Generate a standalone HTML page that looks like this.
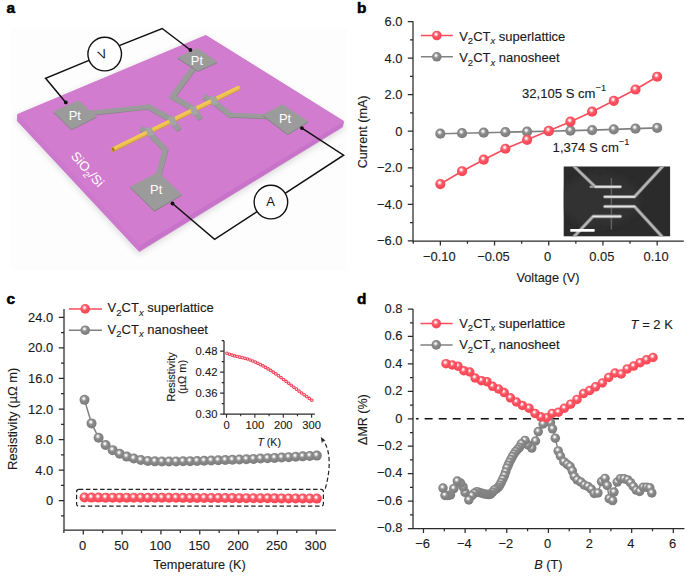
<!DOCTYPE html>
<html><head><meta charset="utf-8"><title>figure</title>
<style>
html,body{margin:0;padding:0;background:#fff;}
body{width:698px;height:582px;overflow:hidden;font-family:"Liberation Sans",sans-serif;}
svg{display:block;font-family:"Liberation Sans",sans-serif;}
.ch text{stroke:#1a1a1a;stroke-width:0.12px;stroke-linejoin:round;}
</style></head><body>
<svg width="698" height="582" viewBox="0 0 698 582">
<defs>
<radialGradient id="gr" cx="0.44" cy="0.40" r="0.62" fx="0.42" fy="0.36">
<stop offset="0" stop-color="#ffffff"/><stop offset="0.12" stop-color="#fff1f2"/><stop offset="0.27" stop-color="#fd9aa3"/><stop offset="0.43" stop-color="#fb5a68"/><stop offset="0.7" stop-color="#fb4a58"/><stop offset="1" stop-color="#f84656"/>
</radialGradient>
<radialGradient id="gg" cx="0.44" cy="0.40" r="0.62" fx="0.42" fy="0.36">
<stop offset="0" stop-color="#ffffff"/><stop offset="0.12" stop-color="#f2f2f2"/><stop offset="0.27" stop-color="#b8b8b8"/><stop offset="0.43" stop-color="#8c8c8c"/><stop offset="0.7" stop-color="#828282"/><stop offset="1" stop-color="#7c7c7c"/>
</radialGradient>
<linearGradient id="gold" x1="0" y1="0" x2="0" y2="1">
<stop offset="0" stop-color="#f3cf63"/><stop offset="0.45" stop-color="#ecbd45"/><stop offset="1" stop-color="#c9952a"/>
</linearGradient>
<filter id="blur" x="-20%" y="-20%" width="140%" height="140%"><feGaussianBlur stdDeviation="3.2"/></filter>
<filter id="blur1" x="-20%" y="-20%" width="140%" height="140%"><feGaussianBlur stdDeviation="0.5"/></filter>
</defs>
<rect x="0" y="0" width="698" height="582" fill="#ffffff"/>

<text transform="translate(6.4,12.6) scale(1.1,1)" font-size="14.0" font-weight="bold" fill="#000" stroke="#000" stroke-width="0.5" stroke-linejoin="round">a</text>
<text transform="translate(357,12.8) scale(1.1,1)" font-size="14.0" font-weight="bold" fill="#000" stroke="#000" stroke-width="0.5" stroke-linejoin="round">b</text>
<text transform="translate(6.4,303.6) scale(1.1,1)" font-size="14.0" font-weight="bold" fill="#000" stroke="#000" stroke-width="0.5" stroke-linejoin="round">c</text>
<text transform="translate(357,303.8) scale(1.1,1)" font-size="14.0" font-weight="bold" fill="#000" stroke="#000" stroke-width="0.5" stroke-linejoin="round">d</text>
<g id="panelA">
<rect x="10.7" y="27.5" width="336" height="242.5" fill="#fdfdfd"/>
<polygon points="17.4,121 139.3,253.5 344.5,128 344,123 205,36 17.4,115" fill="#8a8a8a" opacity="0.3" filter="url(#blur)" transform="translate(-0.5,1)"/>
<polygon points="17.6,114.5 17.4,120.9 139.3,251.6 342.5,127.1 343.8,121.5 205.9,35.5" fill="#c773ca" stroke="#c773ca" stroke-width="0.6" stroke-linejoin="round"/>
<polygon points="17.6,114.5 17.4,120.9 139.3,251.6 139.6,245.4" fill="#cc78cd"/>
<polygon points="17.8,114.4 205.9,35.5 343.8,121.4 139.6,245.4" fill="#d17ccf" stroke="#d17ccf" stroke-width="0.6" stroke-linejoin="round"/>
<polyline points="92,112.8 148.6,106.7" fill="none" stroke="#858585" stroke-width="4.4" stroke-linejoin="miter" stroke-linecap="round" transform="translate(0.3,0.7)"/>
<polyline points="148.6,106.7 171.2,119.4" fill="none" stroke="#858585" stroke-width="5.4" stroke-linejoin="miter" stroke-linecap="round" transform="translate(0.3,0.7)"/>
<polyline points="171.2,119.4 179,129.6" fill="none" stroke="#858585" stroke-width="5.4" stroke-linejoin="miter" stroke-linecap="butt" transform="translate(0.3,0.7)"/>
<polyline points="193.2,68.2 172.4,96.6 193.2,108.8 200.4,118.8" fill="none" stroke="#858585" stroke-width="5.4" stroke-linejoin="miter" stroke-linecap="butt" transform="translate(0.3,0.7)"/>
<polyline points="266,116.3 230.4,114.9" fill="none" stroke="#858585" stroke-width="4.4" stroke-linejoin="miter" stroke-linecap="round" transform="translate(0.3,0.7)"/>
<polyline points="230.4,114.9 214.6,102.6" fill="none" stroke="#858585" stroke-width="5.4" stroke-linejoin="miter" stroke-linecap="round" transform="translate(0.3,0.7)"/>
<polyline points="214.6,102.6 203.6,96.4" fill="none" stroke="#858585" stroke-width="5.4" stroke-linejoin="miter" stroke-linecap="butt" transform="translate(0.3,0.7)"/>
<polyline points="158.8,174 165.3,149.6 150.2,134 140.6,128.2" fill="none" stroke="#858585" stroke-width="5.4" stroke-linejoin="miter" stroke-linecap="butt" transform="translate(0.3,0.7)"/>
<polyline points="92,112.8 148.6,106.7" fill="none" stroke="#9b9b9b" stroke-width="4.4" stroke-linejoin="miter" stroke-linecap="round"/>
<polyline points="148.6,106.7 171.2,119.4" fill="none" stroke="#9b9b9b" stroke-width="5.4" stroke-linejoin="miter" stroke-linecap="round"/>
<polyline points="171.2,119.4 179,129.6" fill="none" stroke="#9b9b9b" stroke-width="5.4" stroke-linejoin="miter" stroke-linecap="butt"/>
<polyline points="193.2,68.2 172.4,96.6 193.2,108.8 200.4,118.8" fill="none" stroke="#9b9b9b" stroke-width="5.4" stroke-linejoin="miter" stroke-linecap="butt"/>
<polyline points="266,116.3 230.4,114.9" fill="none" stroke="#9b9b9b" stroke-width="4.4" stroke-linejoin="miter" stroke-linecap="round"/>
<polyline points="230.4,114.9 214.6,102.6" fill="none" stroke="#9b9b9b" stroke-width="5.4" stroke-linejoin="miter" stroke-linecap="round"/>
<polyline points="214.6,102.6 203.6,96.4" fill="none" stroke="#9b9b9b" stroke-width="5.4" stroke-linejoin="miter" stroke-linecap="butt"/>
<polyline points="158.8,174 165.3,149.6 150.2,134 140.6,128.2" fill="none" stroke="#9b9b9b" stroke-width="5.4" stroke-linejoin="miter" stroke-linecap="butt"/>
<line x1="113.4" y1="149.4" x2="238.2" y2="88.2" stroke="#cf9f35" stroke-width="4.5" stroke-linecap="round"/>
<line x1="113.4" y1="148.9" x2="238.2" y2="87.7" stroke="#ecc050" stroke-width="3.8" stroke-linecap="round"/>
<line x1="113.6" y1="148.0" x2="238.2" y2="86.9" stroke="#f3c85a" stroke-width="1.4" stroke-linecap="round"/>
<ellipse cx="113.2" cy="149.4" rx="1.3" ry="2.1" fill="#a87a1c" transform="rotate(-26 113.2 149.4)"/>
<polygon points="145.6,128.2 151,127 154.1,135.1 148.6,136.3" fill="#929292" transform="translate(0.4,0.5)"/>
<polygon points="145.6,128.2 151,127 154.1,135.1 148.6,136.3" fill="#a5a5a5" stroke="#a5a5a5" stroke-width="0.5" stroke-linejoin="round"/>
<polygon points="168.3,117.7 173.7,116.5 176.8,124.6 171.3,125.8" fill="#929292" transform="translate(0.4,0.5)"/>
<polygon points="168.3,117.7 173.7,116.5 176.8,124.6 171.3,125.8" fill="#a5a5a5" stroke="#a5a5a5" stroke-width="0.5" stroke-linejoin="round"/>
<polygon points="189.8,107.1 195.2,105.9 198.3,114 192.8,115.2" fill="#929292" transform="translate(0.4,0.5)"/>
<polygon points="189.8,107.1 195.2,105.9 198.3,114 192.8,115.2" fill="#a5a5a5" stroke="#a5a5a5" stroke-width="0.5" stroke-linejoin="round"/>
<polygon points="209.8,97.1 215.2,95.9 218.3,104 212.8,105.2" fill="#929292" transform="translate(0.4,0.5)"/>
<polygon points="209.8,97.1 215.2,95.9 218.3,104 212.8,105.2" fill="#a5a5a5" stroke="#a5a5a5" stroke-width="0.5" stroke-linejoin="round"/>
<polygon points="53.4,111.6 78.6,100.2 96.8,116.4 71.6,129.2" fill="#858585" transform="translate(0,1.1)"/>
<polygon points="53.4,111.6 78.6,100.2 96.8,116.4 71.6,129.2" fill="#9b9b9b"/>
<polygon points="177.3,57.6 197.7,48.1 217.7,61.9 197.9,70.9" fill="#858585" transform="translate(0,1.1)"/>
<polygon points="177.3,57.6 197.7,48.1 217.7,61.9 197.9,70.9" fill="#9b9b9b"/>
<polygon points="262.6,114.8 282.6,104.2 308.3,121.5 287.7,134.2" fill="#858585" transform="translate(0,1.1)"/>
<polygon points="262.6,114.8 282.6,104.2 308.3,121.5 287.7,134.2" fill="#9b9b9b"/>
<polygon points="130,186.7 158.3,171.9 181.9,194.5 154.5,210.6" fill="#858585" transform="translate(0,1.1)"/>
<polygon points="130,186.7 158.3,171.9 181.9,194.5 154.5,210.6" fill="#9b9b9b"/>
<text x="74.8" y="119.6" font-size="12.9" text-anchor="middle" fill="#ffffff" >Pt</text>
<text x="196.9" y="64.8" font-size="12.9" text-anchor="middle" fill="#ffffff" >Pt</text>
<text x="285" y="122.8" font-size="12.9" text-anchor="middle" fill="#ffffff" >Pt</text>
<text x="156.2" y="193.8" font-size="12.9" text-anchor="middle" fill="#ffffff" >Pt</text>
<text transform="translate(84.1,172.2) rotate(48.5)" font-size="13.1" text-anchor="middle" fill="#ffffff">SiO<tspan font-size="9" dy="3">2</tspan><tspan dy="-3">/Si</tspan></text>
<polyline points="65.8,102.4 45.6,78.2 104.7,53.9" stroke="#111" stroke-width="1.5" fill="none" stroke-linejoin="miter"/>
<polyline points="104.7,51.4 162.2,28.5 190.4,50" stroke="#111" stroke-width="1.5" fill="none" stroke-linejoin="miter"/>
<polyline points="172.5,203.5 214.6,239.4 343.6,155.2 301.9,128.1" stroke="#111" stroke-width="1.5" fill="none" stroke-linejoin="miter"/>
<circle cx="65.8" cy="102.4" r="1.9" fill="#111"/>
<circle cx="190.4" cy="50.0" r="1.9" fill="#111"/>
<circle cx="172.5" cy="203.5" r="1.9" fill="#111"/>
<circle cx="301.9" cy="128.1" r="1.9" fill="#111"/>
<circle cx="104.7" cy="54.1" r="16.8" fill="#fff" stroke="#111" stroke-width="1.4"/>
<circle cx="270.9" cy="202.1" r="16.8" fill="#fff" stroke="#111" stroke-width="1.4"/>
<text transform="translate(102.4,54.2) rotate(-24)" font-size="12.6" text-anchor="middle" fill="#111" dy="4.5">V</text>
<text x="270.5" y="206.2" font-size="13" text-anchor="middle" fill="#111" >A</text>
</g>
<g id="panelB" class="ch">
<path d="M413 21.3 V241.1 H683.8" fill="none" stroke="#2a2a2a" stroke-width="1.25" stroke-linejoin="miter"/>
<path d="M440.35 241.1v4.4M494.55 241.1v4.4M548.75 241.1v4.4M602.95 241.1v4.4M657.15 241.1v4.4M413.25 241.1v2.7M467.45 241.1v2.7M521.65 241.1v2.7M575.85 241.1v2.7M630.05 241.1v2.7M413 21.52h-5.2M413 58.08h-5.2M413 94.64h-5.2M413 131.2h-5.2M413 167.76h-5.2M413 204.32h-5.2M413 240.88h-5.2M413 39.8h-3M413 76.36h-3M413 112.92h-3M413 149.48h-3M413 186.04h-3M413 222.6h-3" fill="none" stroke="#2a2a2a" stroke-width="1.25"/>
<text x="402.4" y="26.02" font-size="12.9" text-anchor="end" fill="#1a1a1a" >6.0</text>
<text x="402.4" y="62.58" font-size="12.9" text-anchor="end" fill="#1a1a1a" >4.0</text>
<text x="402.4" y="99.14" font-size="12.9" text-anchor="end" fill="#1a1a1a" >2.0</text>
<text x="402.4" y="135.7" font-size="12.9" text-anchor="end" fill="#1a1a1a" >0</text>
<text x="402.4" y="172.26" font-size="12.9" text-anchor="end" fill="#1a1a1a" >−2.0</text>
<text x="402.4" y="208.82" font-size="12.9" text-anchor="end" fill="#1a1a1a" >−4.0</text>
<text x="402.4" y="245.38" font-size="12.9" text-anchor="end" fill="#1a1a1a" >−6.0</text>
<text x="439.25" y="261" font-size="12.9" text-anchor="middle" fill="#1a1a1a" >−0.10</text>
<text x="493.45" y="261" font-size="12.9" text-anchor="middle" fill="#1a1a1a" >−0.05</text>
<text x="547.65" y="261" font-size="12.9" text-anchor="middle" fill="#1a1a1a" >0</text>
<text x="601.85" y="261" font-size="12.9" text-anchor="middle" fill="#1a1a1a" >0.05</text>
<text x="656.05" y="261" font-size="12.9" text-anchor="middle" fill="#1a1a1a" >0.10</text>
<text x="548" y="281.5" font-size="12.75" text-anchor="middle" fill="#1a1a1a" >Voltage (V)</text>
<text transform="translate(367.4,131.9) rotate(-90)" font-size="12.6" text-anchor="middle" fill="#1a1a1a">Current (mA)</text>
<g id="sem">
<rect x="563.7" y="166.5" width="106.4" height="69.8" fill="#2b2b2b"/>
<clipPath id="semclip"><rect x="563.7" y="166.5" width="106.4" height="69.8"/></clipPath>
<g clip-path="url(#semclip)" fill="none" stroke-linecap="round" stroke-linejoin="round">
<ellipse cx="600" cy="200" rx="40" ry="26" fill="#333333" filter="url(#blur)"/>
<rect x="610.7" y="178" width="1.4" height="51.5" fill="#636363" filter="url(#blur1)"/>
<g filter="url(#blur1)">
<line x1="590.8" y1="186.8" x2="596" y2="186.8" stroke="#9a9a9a" stroke-width="2.6"/>
<polyline points="573.2,165.5 595.3,186.8 620.4,186.8" stroke="#777777" stroke-width="3.6"/>
<polyline points="573.2,165.5 595.3,186.8 620.4,186.8" stroke="#b4b4b4" stroke-width="2.2"/>
<polyline points="663.4,165.5 634.5,196.8 604.7,196.8" stroke="#777777" stroke-width="3.6"/>
<polyline points="663.4,165.5 634.5,196.8 604.7,196.8" stroke="#b4b4b4" stroke-width="2.2"/>
<polyline points="604.7,206.5 634.5,206.5 662.6,237.3" stroke="#777777" stroke-width="3.6"/>
<polyline points="604.7,206.5 634.5,206.5 662.6,237.3" stroke="#b4b4b4" stroke-width="2.2"/>
<polyline points="620.4,216.4 593,216.4 573.4,237.3" stroke="#777777" stroke-width="3.6"/>
<polyline points="620.4,216.4 593,216.4 573.4,237.3" stroke="#b4b4b4" stroke-width="2.2"/>
<line x1="595.3" y1="186.8" x2="620.4" y2="186.8" stroke="#e4e4e4" stroke-width="1.5"/>
<line x1="634.5" y1="196.8" x2="604.7" y2="196.8" stroke="#e4e4e4" stroke-width="1.5"/>
<line x1="604.7" y1="206.5" x2="634.5" y2="206.5" stroke="#e4e4e4" stroke-width="1.5"/>
<line x1="620.4" y1="216.4" x2="593" y2="216.4" stroke="#e4e4e4" stroke-width="1.5"/>
</g>
<line x1="570.3" y1="230.4" x2="594.6" y2="230.4" stroke="#ffffff" stroke-width="2.6" stroke-linecap="butt"/>
</g></g>
<polyline points="440.35,133.7 462.03,133.21 483.71,132.7 505.39,132.21 527.07,131.69 548.75,131.2 570.43,130.65 592.11,130.1 613.79,129.37 635.47,128.64 657.15,127.91" fill="none" stroke="#808080" stroke-width="1.65"/>
<circle cx="440.35" cy="133.7" r="5.1" fill="url(#gg)"/>
<circle cx="462.03" cy="133.21" r="5.1" fill="url(#gg)"/>
<circle cx="483.71" cy="132.7" r="5.1" fill="url(#gg)"/>
<circle cx="505.39" cy="132.21" r="5.1" fill="url(#gg)"/>
<circle cx="527.07" cy="131.69" r="5.1" fill="url(#gg)"/>
<circle cx="548.75" cy="131.2" r="5.1" fill="url(#gg)"/>
<circle cx="570.43" cy="130.65" r="5.1" fill="url(#gg)"/>
<circle cx="592.11" cy="130.1" r="5.1" fill="url(#gg)"/>
<circle cx="613.79" cy="129.37" r="5.1" fill="url(#gg)"/>
<circle cx="635.47" cy="128.64" r="5.1" fill="url(#gg)"/>
<circle cx="657.15" cy="127.91" r="5.1" fill="url(#gg)"/>
<polyline points="440.35,184.03 462.03,171.23 483.71,159.72 505.39,148.75 527.07,139.79 548.75,130.83 570.43,121.69 592.11,111.64 613.79,100.86 635.47,89.52 657.15,76.73" fill="none" stroke="#f94d5c" stroke-width="1.65"/>
<circle cx="440.35" cy="184.03" r="5.1" fill="url(#gr)"/>
<circle cx="462.03" cy="171.23" r="5.1" fill="url(#gr)"/>
<circle cx="483.71" cy="159.72" r="5.1" fill="url(#gr)"/>
<circle cx="505.39" cy="148.75" r="5.1" fill="url(#gr)"/>
<circle cx="527.07" cy="139.79" r="5.1" fill="url(#gr)"/>
<circle cx="548.75" cy="130.83" r="5.1" fill="url(#gr)"/>
<circle cx="570.43" cy="121.69" r="5.1" fill="url(#gr)"/>
<circle cx="592.11" cy="111.64" r="5.1" fill="url(#gr)"/>
<circle cx="613.79" cy="100.86" r="5.1" fill="url(#gr)"/>
<circle cx="635.47" cy="89.52" r="5.1" fill="url(#gr)"/>
<circle cx="657.15" cy="76.73" r="5.1" fill="url(#gr)"/>
<line x1="420.9" y1="35.5" x2="452.9" y2="35.5" stroke="#f94d5c" stroke-width="1.5"/>
<circle cx="436.8" cy="35.5" r="4.8" fill="url(#gr)"/>
<text x="459.2" y="40.8" font-size="13" fill="#1a1a1a">V<tspan font-size="9.49" dy="3.5">2</tspan><tspan dy="-3.5">CT</tspan><tspan font-size="9.49" dy="3.5" font-style="italic">x</tspan><tspan dy="-3.5"> superlattice</tspan></text>
<line x1="420.9" y1="56.8" x2="452.9" y2="56.8" stroke="#808080" stroke-width="1.5"/>
<circle cx="436.8" cy="56.8" r="4.8" fill="url(#gg)"/>
<text x="459.2" y="62.1" font-size="13" fill="#1a1a1a">V<tspan font-size="9.49" dy="3.5">2</tspan><tspan dy="-3.5">CT</tspan><tspan font-size="9.49" dy="3.5" font-style="italic">x</tspan><tspan dy="-3.5"> nanosheet</tspan></text>
<text x="522" y="97.6" font-size="13.1" fill="#1a1a1a">32,105 S cm<tspan font-size="9.2" dy="-6.2">−1</tspan></text>
<text x="552.6" y="151.6" font-size="13.1" fill="#1a1a1a">1,374 S cm<tspan font-size="9.2" dy="-6.2">−1</tspan></text>
</g>
<g id="panelC" class="ch">
<path d="M64 309 V530.2 H336" fill="none" stroke="#2a2a2a" stroke-width="1.25" stroke-linejoin="miter"/>
<path d="M83.3 530.2v4.4M122.12 530.2v4.4M160.94 530.2v4.4M199.76 530.2v4.4M238.58 530.2v4.4M277.4 530.2v4.4M316.22 530.2v4.4M63.89 530.2v2.7M102.71 530.2v2.7M141.53 530.2v2.7M180.35 530.2v2.7M219.17 530.2v2.7M257.99 530.2v2.7M296.81 530.2v2.7M64 317.34h-5.2M64 347.9h-5.2M64 378.46h-5.2M64 409.02h-5.2M64 439.58h-5.2M64 470.14h-5.2M64 500.7h-5.2M64 332.62h-3M64 363.18h-3M64 393.74h-3M64 424.3h-3M64 454.86h-3M64 485.42h-3M64 515.98h-3" fill="none" stroke="#2a2a2a" stroke-width="1.25"/>
<text x="53.2" y="321.84" font-size="12.9" text-anchor="end" fill="#1a1a1a" >24.0</text>
<text x="53.2" y="352.4" font-size="12.9" text-anchor="end" fill="#1a1a1a" >20.0</text>
<text x="53.2" y="382.96" font-size="12.9" text-anchor="end" fill="#1a1a1a" >16.0</text>
<text x="53.2" y="413.52" font-size="12.9" text-anchor="end" fill="#1a1a1a" >12.0</text>
<text x="53.2" y="444.08" font-size="12.9" text-anchor="end" fill="#1a1a1a" >8.0</text>
<text x="53.2" y="474.64" font-size="12.9" text-anchor="end" fill="#1a1a1a" >4.0</text>
<text x="53.2" y="505.2" font-size="12.9" text-anchor="end" fill="#1a1a1a" >0</text>
<text x="82.7" y="550.2" font-size="12.9" text-anchor="middle" fill="#1a1a1a" >0</text>
<text x="121.52" y="550.2" font-size="12.9" text-anchor="middle" fill="#1a1a1a" >50</text>
<text x="160.34" y="550.2" font-size="12.9" text-anchor="middle" fill="#1a1a1a" >100</text>
<text x="199.16" y="550.2" font-size="12.9" text-anchor="middle" fill="#1a1a1a" >150</text>
<text x="237.98" y="550.2" font-size="12.9" text-anchor="middle" fill="#1a1a1a" >200</text>
<text x="276.8" y="550.2" font-size="12.9" text-anchor="middle" fill="#1a1a1a" >250</text>
<text x="315.62" y="550.2" font-size="12.9" text-anchor="middle" fill="#1a1a1a" >300</text>
<text x="199.6" y="568.6" font-size="12.8" text-anchor="middle" fill="#1a1a1a" >Temperature (K)</text>
<text transform="translate(17,418.8) rotate(-90)" font-size="13" text-anchor="middle" fill="#1a1a1a">Resistivity (µΩ m)</text>
<polyline points="84.5,399.85 91.54,423.41 98.58,437.67 105.62,445.03 112.66,450.16 119.7,453.83 126.74,456.62 133.78,458.58 140.82,460.05 147.86,460.94 154.9,461.37 161.94,461.58 168.98,461.58 176.02,461.44 183.06,461.3 190.1,461.16 197.14,461.02 204.18,460.82 211.22,460.57 218.26,460.32 225.3,460.07 232.34,459.82 239.38,459.56 246.42,459.23 253.46,458.89 260.5,458.56 267.54,458.23 274.58,457.9 281.62,457.53 288.66,457.14 295.7,456.75 302.74,456.37 309.78,455.98 316.82,455.62" fill="none" stroke="#808080" stroke-width="1.5"/>
<circle cx="84.5" cy="399.85" r="5" fill="url(#gg)"/>
<circle cx="91.54" cy="423.41" r="5" fill="url(#gg)"/>
<circle cx="98.58" cy="437.67" r="5" fill="url(#gg)"/>
<circle cx="105.62" cy="445.03" r="5" fill="url(#gg)"/>
<circle cx="112.66" cy="450.16" r="5" fill="url(#gg)"/>
<circle cx="119.7" cy="453.83" r="5" fill="url(#gg)"/>
<circle cx="126.74" cy="456.62" r="5" fill="url(#gg)"/>
<circle cx="133.78" cy="458.58" r="5" fill="url(#gg)"/>
<circle cx="140.82" cy="460.05" r="5" fill="url(#gg)"/>
<circle cx="147.86" cy="460.94" r="5" fill="url(#gg)"/>
<circle cx="154.9" cy="461.37" r="5" fill="url(#gg)"/>
<circle cx="161.94" cy="461.58" r="5" fill="url(#gg)"/>
<circle cx="168.98" cy="461.58" r="5" fill="url(#gg)"/>
<circle cx="176.02" cy="461.44" r="5" fill="url(#gg)"/>
<circle cx="183.06" cy="461.3" r="5" fill="url(#gg)"/>
<circle cx="190.1" cy="461.16" r="5" fill="url(#gg)"/>
<circle cx="197.14" cy="461.02" r="5" fill="url(#gg)"/>
<circle cx="204.18" cy="460.82" r="5" fill="url(#gg)"/>
<circle cx="211.22" cy="460.57" r="5" fill="url(#gg)"/>
<circle cx="218.26" cy="460.32" r="5" fill="url(#gg)"/>
<circle cx="225.3" cy="460.07" r="5" fill="url(#gg)"/>
<circle cx="232.34" cy="459.82" r="5" fill="url(#gg)"/>
<circle cx="239.38" cy="459.56" r="5" fill="url(#gg)"/>
<circle cx="246.42" cy="459.23" r="5" fill="url(#gg)"/>
<circle cx="253.46" cy="458.89" r="5" fill="url(#gg)"/>
<circle cx="260.5" cy="458.56" r="5" fill="url(#gg)"/>
<circle cx="267.54" cy="458.23" r="5" fill="url(#gg)"/>
<circle cx="274.58" cy="457.9" r="5" fill="url(#gg)"/>
<circle cx="281.62" cy="457.53" r="5" fill="url(#gg)"/>
<circle cx="288.66" cy="457.14" r="5" fill="url(#gg)"/>
<circle cx="295.7" cy="456.75" r="5" fill="url(#gg)"/>
<circle cx="302.74" cy="456.37" r="5" fill="url(#gg)"/>
<circle cx="309.78" cy="455.98" r="5" fill="url(#gg)"/>
<circle cx="316.82" cy="455.62" r="5" fill="url(#gg)"/>
<line x1="84.5" y1="497.08" x2="316.82" y2="498.11" stroke="#f94d5c" stroke-width="1.5"/>
<circle cx="84.5" cy="497.58" r="5" fill="url(#gr)"/>
<circle cx="91.54" cy="497.6" r="5" fill="url(#gr)"/>
<circle cx="98.58" cy="497.62" r="5" fill="url(#gr)"/>
<circle cx="105.62" cy="497.64" r="5" fill="url(#gr)"/>
<circle cx="112.66" cy="497.65" r="5" fill="url(#gr)"/>
<circle cx="119.7" cy="497.66" r="5" fill="url(#gr)"/>
<circle cx="126.74" cy="497.68" r="5" fill="url(#gr)"/>
<circle cx="133.78" cy="497.69" r="5" fill="url(#gr)"/>
<circle cx="140.82" cy="497.71" r="5" fill="url(#gr)"/>
<circle cx="147.86" cy="497.73" r="5" fill="url(#gr)"/>
<circle cx="154.9" cy="497.75" r="5" fill="url(#gr)"/>
<circle cx="161.94" cy="497.77" r="5" fill="url(#gr)"/>
<circle cx="168.98" cy="497.8" r="5" fill="url(#gr)"/>
<circle cx="176.02" cy="497.83" r="5" fill="url(#gr)"/>
<circle cx="183.06" cy="497.86" r="5" fill="url(#gr)"/>
<circle cx="190.1" cy="497.89" r="5" fill="url(#gr)"/>
<circle cx="197.14" cy="497.92" r="5" fill="url(#gr)"/>
<circle cx="204.18" cy="497.95" r="5" fill="url(#gr)"/>
<circle cx="211.22" cy="497.99" r="5" fill="url(#gr)"/>
<circle cx="218.26" cy="498.03" r="5" fill="url(#gr)"/>
<circle cx="225.3" cy="498.07" r="5" fill="url(#gr)"/>
<circle cx="232.34" cy="498.11" r="5" fill="url(#gr)"/>
<circle cx="239.38" cy="498.15" r="5" fill="url(#gr)"/>
<circle cx="246.42" cy="498.19" r="5" fill="url(#gr)"/>
<circle cx="253.46" cy="498.24" r="5" fill="url(#gr)"/>
<circle cx="260.5" cy="498.28" r="5" fill="url(#gr)"/>
<circle cx="267.54" cy="498.32" r="5" fill="url(#gr)"/>
<circle cx="274.58" cy="498.36" r="5" fill="url(#gr)"/>
<circle cx="281.62" cy="498.41" r="5" fill="url(#gr)"/>
<circle cx="288.66" cy="498.45" r="5" fill="url(#gr)"/>
<circle cx="295.7" cy="498.49" r="5" fill="url(#gr)"/>
<circle cx="302.74" cy="498.53" r="5" fill="url(#gr)"/>
<circle cx="309.78" cy="498.57" r="5" fill="url(#gr)"/>
<circle cx="316.82" cy="498.61" r="5" fill="url(#gr)"/>
<rect x="76.6" y="489.4" width="246.8" height="16.8" rx="2.2" fill="none" stroke="#222" stroke-width="1.2" stroke-dasharray="4.5 2.6"/>
<path d="M325.3 488.6 C330.5 470 331 452 323.6 440.6" fill="none" stroke="#222" stroke-width="1.2" stroke-dasharray="4.3 2.6"/>
<path d="M320.8 437.0 L325.6 440.6 L322.9 440.9 L321.9 443.4 Z" fill="#222"/>
<path d="M224 340.8 V414.1 H314.8" fill="none" stroke="#2a2a2a" stroke-width="1.25"/>
<path d="M226.5 414.1v3.6M254.88 414.1v3.6M283.26 414.1v3.6M311.64 414.1v3.6M240.69 414.1v2.2M269.07 414.1v2.2M297.45 414.1v2.2M224 351.1h-3.8M224 372.1h-3.8M224 393.1h-3.8M224 414.1h-3.8M224 340.6h-2.3M224 361.6h-2.3M224 382.6h-2.3M224 403.6h-2.3" fill="none" stroke="#2a2a2a" stroke-width="1.1"/>
<text x="217.4" y="355.1" font-size="11.2" text-anchor="end" fill="#1a1a1a" >0.48</text>
<text x="217.4" y="376.1" font-size="11.2" text-anchor="end" fill="#1a1a1a" >0.42</text>
<text x="217.4" y="397.1" font-size="11.2" text-anchor="end" fill="#1a1a1a" >0.36</text>
<text x="217.4" y="418.1" font-size="11.2" text-anchor="end" fill="#1a1a1a" >0.30</text>
<text x="226.5" y="429.4" font-size="11.2" text-anchor="middle" fill="#1a1a1a" >0</text>
<text x="254.88" y="429.4" font-size="11.2" text-anchor="middle" fill="#1a1a1a" >100</text>
<text x="283.26" y="429.4" font-size="11.2" text-anchor="middle" fill="#1a1a1a" >200</text>
<text x="311.64" y="429.4" font-size="11.2" text-anchor="middle" fill="#1a1a1a" >300</text>
<text x="269.2" y="446" font-size="10.6" text-anchor="middle" fill="#1a1a1a"><tspan font-style="italic">T</tspan> (K)</text>
<text transform="translate(174.6,377) rotate(-90)" font-size="11" text-anchor="middle" fill="#1a1a1a">Resistivity</text>
<text transform="translate(185.6,377) rotate(-90)" font-size="11" text-anchor="middle" fill="#1a1a1a">(µΩ m)</text>
<circle cx="226.94" cy="353.23" r="1.3" fill="#ffe9ec" stroke="#f03e56" stroke-width="1.05"/>
<circle cx="229.51" cy="354.27" r="1.3" fill="#ffe9ec" stroke="#f03e56" stroke-width="1.05"/>
<circle cx="232.09" cy="355.17" r="1.3" fill="#ffe9ec" stroke="#f03e56" stroke-width="1.05"/>
<circle cx="234.66" cy="355.94" r="1.3" fill="#ffe9ec" stroke="#f03e56" stroke-width="1.05"/>
<circle cx="237.23" cy="356.54" r="1.3" fill="#ffe9ec" stroke="#f03e56" stroke-width="1.05"/>
<circle cx="239.81" cy="357.13" r="1.3" fill="#ffe9ec" stroke="#f03e56" stroke-width="1.05"/>
<circle cx="242.38" cy="357.72" r="1.3" fill="#ffe9ec" stroke="#f03e56" stroke-width="1.05"/>
<circle cx="244.95" cy="358.31" r="1.3" fill="#ffe9ec" stroke="#f03e56" stroke-width="1.05"/>
<circle cx="247.53" cy="359.03" r="1.3" fill="#ffe9ec" stroke="#f03e56" stroke-width="1.05"/>
<circle cx="250.1" cy="360.02" r="1.3" fill="#ffe9ec" stroke="#f03e56" stroke-width="1.05"/>
<circle cx="252.67" cy="361" r="1.3" fill="#ffe9ec" stroke="#f03e56" stroke-width="1.05"/>
<circle cx="255.25" cy="362.07" r="1.3" fill="#ffe9ec" stroke="#f03e56" stroke-width="1.05"/>
<circle cx="257.82" cy="363.34" r="1.3" fill="#ffe9ec" stroke="#f03e56" stroke-width="1.05"/>
<circle cx="260.39" cy="364.62" r="1.3" fill="#ffe9ec" stroke="#f03e56" stroke-width="1.05"/>
<circle cx="262.97" cy="365.93" r="1.3" fill="#ffe9ec" stroke="#f03e56" stroke-width="1.05"/>
<circle cx="265.54" cy="367.42" r="1.3" fill="#ffe9ec" stroke="#f03e56" stroke-width="1.05"/>
<circle cx="268.11" cy="368.9" r="1.3" fill="#ffe9ec" stroke="#f03e56" stroke-width="1.05"/>
<circle cx="270.69" cy="370.42" r="1.3" fill="#ffe9ec" stroke="#f03e56" stroke-width="1.05"/>
<circle cx="273.26" cy="372.15" r="1.3" fill="#ffe9ec" stroke="#f03e56" stroke-width="1.05"/>
<circle cx="275.83" cy="373.88" r="1.3" fill="#ffe9ec" stroke="#f03e56" stroke-width="1.05"/>
<circle cx="278.41" cy="375.62" r="1.3" fill="#ffe9ec" stroke="#f03e56" stroke-width="1.05"/>
<circle cx="280.98" cy="377.56" r="1.3" fill="#ffe9ec" stroke="#f03e56" stroke-width="1.05"/>
<circle cx="283.55" cy="379.49" r="1.3" fill="#ffe9ec" stroke="#f03e56" stroke-width="1.05"/>
<circle cx="286.13" cy="381.42" r="1.3" fill="#ffe9ec" stroke="#f03e56" stroke-width="1.05"/>
<circle cx="288.7" cy="383.35" r="1.3" fill="#ffe9ec" stroke="#f03e56" stroke-width="1.05"/>
<circle cx="291.27" cy="385.28" r="1.3" fill="#ffe9ec" stroke="#f03e56" stroke-width="1.05"/>
<circle cx="293.85" cy="387.21" r="1.3" fill="#ffe9ec" stroke="#f03e56" stroke-width="1.05"/>
<circle cx="296.42" cy="389.14" r="1.3" fill="#ffe9ec" stroke="#f03e56" stroke-width="1.05"/>
<circle cx="298.99" cy="391.07" r="1.3" fill="#ffe9ec" stroke="#f03e56" stroke-width="1.05"/>
<circle cx="301.57" cy="392.99" r="1.3" fill="#ffe9ec" stroke="#f03e56" stroke-width="1.05"/>
<circle cx="304.14" cy="394.81" r="1.3" fill="#ffe9ec" stroke="#f03e56" stroke-width="1.05"/>
<circle cx="306.71" cy="396.62" r="1.3" fill="#ffe9ec" stroke="#f03e56" stroke-width="1.05"/>
<circle cx="309.29" cy="398.42" r="1.3" fill="#ffe9ec" stroke="#f03e56" stroke-width="1.05"/>
<circle cx="311.86" cy="400.22" r="1.3" fill="#ffe9ec" stroke="#f03e56" stroke-width="1.05"/>
<line x1="68.9" y1="308.9" x2="102" y2="308.9" stroke="#f94d5c" stroke-width="1.5"/>
<circle cx="85.2" cy="308.9" r="4.8" fill="url(#gr)"/>
<text x="107.6" y="312.2" font-size="13" fill="#1a1a1a">V<tspan font-size="9.49" dy="3.5">2</tspan><tspan dy="-3.5">CT</tspan><tspan font-size="9.49" dy="3.5" font-style="italic">x</tspan><tspan dy="-3.5"> superlattice</tspan></text>
<line x1="68.9" y1="330.2" x2="102" y2="330.2" stroke="#808080" stroke-width="1.5"/>
<circle cx="85.2" cy="330.2" r="4.8" fill="url(#gg)"/>
<text x="107.6" y="333.5" font-size="13" fill="#1a1a1a">V<tspan font-size="9.49" dy="3.5">2</tspan><tspan dy="-3.5">CT</tspan><tspan font-size="9.49" dy="3.5" font-style="italic">x</tspan><tspan dy="-3.5"> nanosheet</tspan></text>
</g>
<g id="panelD" class="ch">
<path d="M413 309.1 V528.5 H684.4" fill="none" stroke="#2a2a2a" stroke-width="1.25" stroke-linejoin="miter"/>
<path d="M423.48 528.5v4.4M465.12 528.5v4.4M506.76 528.5v4.4M548.4 528.5v4.4M590.04 528.5v4.4M631.68 528.5v4.4M673.32 528.5v4.4M444.3 528.5v2.7M485.94 528.5v2.7M527.58 528.5v2.7M569.22 528.5v2.7M610.86 528.5v2.7M652.5 528.5v2.7M413 309.04h-5.2M413 336.48h-5.2M413 363.92h-5.2M413 391.36h-5.2M413 418.8h-5.2M413 446.24h-5.2M413 473.68h-5.2M413 501.12h-5.2M413 528.56h-5.2M413 322.76h-3M413 350.2h-3M413 377.64h-3M413 405.08h-3M413 432.52h-3M413 459.96h-3M413 487.4h-3M413 514.84h-3" fill="none" stroke="#2a2a2a" stroke-width="1.25"/>
<text x="402.4" y="312.74" font-size="12.9" text-anchor="end" fill="#1a1a1a" >0.8</text>
<text x="402.4" y="340.18" font-size="12.9" text-anchor="end" fill="#1a1a1a" >0.6</text>
<text x="402.4" y="367.62" font-size="12.9" text-anchor="end" fill="#1a1a1a" >0.4</text>
<text x="402.4" y="395.06" font-size="12.9" text-anchor="end" fill="#1a1a1a" >0.2</text>
<text x="402.4" y="422.5" font-size="12.9" text-anchor="end" fill="#1a1a1a" >0</text>
<text x="402.4" y="449.94" font-size="12.9" text-anchor="end" fill="#1a1a1a" >−0.2</text>
<text x="402.4" y="477.38" font-size="12.9" text-anchor="end" fill="#1a1a1a" >−0.4</text>
<text x="402.4" y="504.82" font-size="12.9" text-anchor="end" fill="#1a1a1a" >−0.6</text>
<text x="402.4" y="532.26" font-size="12.9" text-anchor="end" fill="#1a1a1a" >−0.8</text>
<text x="422.68" y="547.8" font-size="12.9" text-anchor="middle" fill="#1a1a1a" >−6</text>
<text x="464.32" y="547.8" font-size="12.9" text-anchor="middle" fill="#1a1a1a" >−4</text>
<text x="505.96" y="547.8" font-size="12.9" text-anchor="middle" fill="#1a1a1a" >−2</text>
<text x="547.6" y="547.8" font-size="12.9" text-anchor="middle" fill="#1a1a1a" >0</text>
<text x="589.24" y="547.8" font-size="12.9" text-anchor="middle" fill="#1a1a1a" >2</text>
<text x="630.88" y="547.8" font-size="12.9" text-anchor="middle" fill="#1a1a1a" >4</text>
<text x="672.52" y="547.8" font-size="12.9" text-anchor="middle" fill="#1a1a1a" >6</text>
<text x="548.4" y="568.6" font-size="12.7" text-anchor="middle" fill="#1a1a1a"><tspan font-style="italic">B</tspan> (T)</text>
<text transform="translate(366.8,419.6) rotate(-90)" font-size="12.5" text-anchor="middle" fill="#1a1a1a">ΔMR (%)</text>
<text x="630.6" y="329.2" font-size="13.0" fill="#1a1a1a"><tspan font-style="italic">T</tspan> = 2 K</text>
<line x1="416" y1="418.8" x2="684" y2="418.8" stroke="#111" stroke-width="1.5" stroke-dasharray="8 6.04" stroke-dashoffset="5.4"/>
<polyline points="443,488.1 445,495.4 447.8,495.6 450.5,494.9 453.8,488.6 457.3,481.1 460.6,483.1 463.1,486.9 465.1,492.4 468.8,499.9 471.8,495.7 474.4,493.2 476.9,491.7 479.5,492.6 481.9,493.2 484.2,494 486.4,494.2 488.6,494.6 490.6,494.2 492.6,492.2 494.4,489.9 496.3,488.8 498.2,487.4 499.8,485.2 501.2,482.4 502.8,479.2 504.4,475.6 505.7,472 506.9,468.1 508.2,465.2 509.4,462.3 510.9,459.5 512.4,456.6 514,454 515.7,451.5 517.6,449.3 519.5,447.3 521.3,443.8 525,440.4 527.5,444.7 531.8,448.1 535.5,441 538.3,431.6 543.1,424 546.8,419.7 550.5,422.6 552.5,428.8 555.3,438.2 558.2,450.9 560.4,456 563.8,461.7 567.2,464.3 570.1,466.5 572.3,470.8 574.3,476.5 577.2,479.9 580.9,482.1 584.3,485 587.9,486.4 591.3,489.2 594.2,493.5 597.9,492.9 601.6,481.6 605,478.4 607.2,485.5 609.2,498.6 612.6,500.6 614,492.1 617.2,482.1 620.6,478.7 624,478.7 627.7,479.9 630.5,482.7 633.3,486.4 636.2,490.1 639.6,491.5 643.3,487.2 646.7,487.2 649.8,487.8 651.8,492.9" fill="none" stroke="#808080" stroke-width="1.4"/>
<circle cx="546.8" cy="419.7" r="4.75" fill="url(#gg)"/>
<circle cx="550.5" cy="422.6" r="4.75" fill="url(#gg)"/>
<circle cx="543.1" cy="424" r="4.75" fill="url(#gg)"/>
<circle cx="552.5" cy="428.8" r="4.75" fill="url(#gg)"/>
<circle cx="538.3" cy="431.6" r="4.75" fill="url(#gg)"/>
<circle cx="555.3" cy="438.2" r="4.75" fill="url(#gg)"/>
<circle cx="535.5" cy="441" r="4.75" fill="url(#gg)"/>
<circle cx="558.2" cy="450.9" r="4.75" fill="url(#gg)"/>
<circle cx="531.8" cy="448.1" r="4.75" fill="url(#gg)"/>
<circle cx="560.4" cy="456" r="4.75" fill="url(#gg)"/>
<circle cx="527.5" cy="444.7" r="4.75" fill="url(#gg)"/>
<circle cx="563.8" cy="461.7" r="4.75" fill="url(#gg)"/>
<circle cx="525" cy="440.4" r="4.75" fill="url(#gg)"/>
<circle cx="567.2" cy="464.3" r="4.75" fill="url(#gg)"/>
<circle cx="521.3" cy="443.8" r="4.75" fill="url(#gg)"/>
<circle cx="570.1" cy="466.5" r="4.75" fill="url(#gg)"/>
<circle cx="519.5" cy="447.3" r="4.75" fill="url(#gg)"/>
<circle cx="572.3" cy="470.8" r="4.75" fill="url(#gg)"/>
<circle cx="517.6" cy="449.3" r="4.75" fill="url(#gg)"/>
<circle cx="574.3" cy="476.5" r="4.75" fill="url(#gg)"/>
<circle cx="515.7" cy="451.5" r="4.75" fill="url(#gg)"/>
<circle cx="577.2" cy="479.9" r="4.75" fill="url(#gg)"/>
<circle cx="514" cy="454" r="4.75" fill="url(#gg)"/>
<circle cx="580.9" cy="482.1" r="4.75" fill="url(#gg)"/>
<circle cx="512.4" cy="456.6" r="4.75" fill="url(#gg)"/>
<circle cx="584.3" cy="485" r="4.75" fill="url(#gg)"/>
<circle cx="510.9" cy="459.5" r="4.75" fill="url(#gg)"/>
<circle cx="587.9" cy="486.4" r="4.75" fill="url(#gg)"/>
<circle cx="509.4" cy="462.3" r="4.75" fill="url(#gg)"/>
<circle cx="591.3" cy="489.2" r="4.75" fill="url(#gg)"/>
<circle cx="508.2" cy="465.2" r="4.75" fill="url(#gg)"/>
<circle cx="594.2" cy="493.5" r="4.75" fill="url(#gg)"/>
<circle cx="506.9" cy="468.1" r="4.75" fill="url(#gg)"/>
<circle cx="597.9" cy="492.9" r="4.75" fill="url(#gg)"/>
<circle cx="505.7" cy="472" r="4.75" fill="url(#gg)"/>
<circle cx="601.6" cy="481.6" r="4.75" fill="url(#gg)"/>
<circle cx="504.4" cy="475.6" r="4.75" fill="url(#gg)"/>
<circle cx="605" cy="478.4" r="4.75" fill="url(#gg)"/>
<circle cx="502.8" cy="479.2" r="4.75" fill="url(#gg)"/>
<circle cx="607.2" cy="485.5" r="4.75" fill="url(#gg)"/>
<circle cx="501.2" cy="482.4" r="4.75" fill="url(#gg)"/>
<circle cx="609.2" cy="498.6" r="4.75" fill="url(#gg)"/>
<circle cx="499.8" cy="485.2" r="4.75" fill="url(#gg)"/>
<circle cx="612.6" cy="500.6" r="4.75" fill="url(#gg)"/>
<circle cx="498.2" cy="487.4" r="4.75" fill="url(#gg)"/>
<circle cx="614" cy="492.1" r="4.75" fill="url(#gg)"/>
<circle cx="496.3" cy="488.8" r="4.75" fill="url(#gg)"/>
<circle cx="617.2" cy="482.1" r="4.75" fill="url(#gg)"/>
<circle cx="494.4" cy="489.9" r="4.75" fill="url(#gg)"/>
<circle cx="620.6" cy="478.7" r="4.75" fill="url(#gg)"/>
<circle cx="492.6" cy="492.2" r="4.75" fill="url(#gg)"/>
<circle cx="624" cy="478.7" r="4.75" fill="url(#gg)"/>
<circle cx="490.6" cy="494.2" r="4.75" fill="url(#gg)"/>
<circle cx="627.7" cy="479.9" r="4.75" fill="url(#gg)"/>
<circle cx="488.6" cy="494.6" r="4.75" fill="url(#gg)"/>
<circle cx="630.5" cy="482.7" r="4.75" fill="url(#gg)"/>
<circle cx="486.4" cy="494.2" r="4.75" fill="url(#gg)"/>
<circle cx="633.3" cy="486.4" r="4.75" fill="url(#gg)"/>
<circle cx="484.2" cy="494" r="4.75" fill="url(#gg)"/>
<circle cx="636.2" cy="490.1" r="4.75" fill="url(#gg)"/>
<circle cx="481.9" cy="493.2" r="4.75" fill="url(#gg)"/>
<circle cx="639.6" cy="491.5" r="4.75" fill="url(#gg)"/>
<circle cx="479.5" cy="492.6" r="4.75" fill="url(#gg)"/>
<circle cx="643.3" cy="487.2" r="4.75" fill="url(#gg)"/>
<circle cx="476.9" cy="491.7" r="4.75" fill="url(#gg)"/>
<circle cx="646.7" cy="487.2" r="4.75" fill="url(#gg)"/>
<circle cx="474.4" cy="493.2" r="4.75" fill="url(#gg)"/>
<circle cx="649.8" cy="487.8" r="4.75" fill="url(#gg)"/>
<circle cx="471.8" cy="495.7" r="4.75" fill="url(#gg)"/>
<circle cx="651.8" cy="492.9" r="4.75" fill="url(#gg)"/>
<circle cx="468.8" cy="499.9" r="4.75" fill="url(#gg)"/>
<circle cx="465.1" cy="492.4" r="4.75" fill="url(#gg)"/>
<circle cx="463.1" cy="486.9" r="4.75" fill="url(#gg)"/>
<circle cx="460.6" cy="483.1" r="4.75" fill="url(#gg)"/>
<circle cx="457.3" cy="481.1" r="4.75" fill="url(#gg)"/>
<circle cx="453.8" cy="488.6" r="4.75" fill="url(#gg)"/>
<circle cx="450.5" cy="494.9" r="4.75" fill="url(#gg)"/>
<circle cx="447.8" cy="495.6" r="4.75" fill="url(#gg)"/>
<circle cx="445" cy="495.4" r="4.75" fill="url(#gg)"/>
<circle cx="443" cy="488.1" r="4.75" fill="url(#gg)"/>
<polyline points="446,363.7 452.3,365 458,366.2 463.8,370.7 469.8,372 475.1,378 481.4,380.7 486.9,381.7 492.6,386.3 498.5,389 504.2,392.6 510.4,397.8 516.4,402 522.4,405.4 529,408.2 535,413.4 540.7,416.8 546.7,417.7 552.2,413.4 558.4,412.2 564.4,408.2 570.7,404.2 577,399.4 583.5,393.6 589.6,390.6 595.5,386.8 602.3,383 608.7,377.5 615,373 621.2,374 627.2,368.9 633.6,366.1 640.1,362.7 646.5,359.8 653,357.5" fill="none" stroke="#f94d5c" stroke-width="1.4"/>
<circle cx="546.7" cy="417.7" r="4.75" fill="url(#gr)"/>
<circle cx="540.7" cy="416.8" r="4.75" fill="url(#gr)"/>
<circle cx="535" cy="413.4" r="4.75" fill="url(#gr)"/>
<circle cx="529" cy="408.2" r="4.75" fill="url(#gr)"/>
<circle cx="522.4" cy="405.4" r="4.75" fill="url(#gr)"/>
<circle cx="516.4" cy="402" r="4.75" fill="url(#gr)"/>
<circle cx="510.4" cy="397.8" r="4.75" fill="url(#gr)"/>
<circle cx="504.2" cy="392.6" r="4.75" fill="url(#gr)"/>
<circle cx="498.5" cy="389" r="4.75" fill="url(#gr)"/>
<circle cx="492.6" cy="386.3" r="4.75" fill="url(#gr)"/>
<circle cx="486.9" cy="381.7" r="4.75" fill="url(#gr)"/>
<circle cx="481.4" cy="380.7" r="4.75" fill="url(#gr)"/>
<circle cx="475.1" cy="378" r="4.75" fill="url(#gr)"/>
<circle cx="469.8" cy="372" r="4.75" fill="url(#gr)"/>
<circle cx="463.8" cy="370.7" r="4.75" fill="url(#gr)"/>
<circle cx="458" cy="366.2" r="4.75" fill="url(#gr)"/>
<circle cx="452.3" cy="365" r="4.75" fill="url(#gr)"/>
<circle cx="446" cy="363.7" r="4.75" fill="url(#gr)"/>
<circle cx="552.2" cy="413.4" r="4.75" fill="url(#gr)"/>
<circle cx="558.4" cy="412.2" r="4.75" fill="url(#gr)"/>
<circle cx="564.4" cy="408.2" r="4.75" fill="url(#gr)"/>
<circle cx="570.7" cy="404.2" r="4.75" fill="url(#gr)"/>
<circle cx="577" cy="399.4" r="4.75" fill="url(#gr)"/>
<circle cx="583.5" cy="393.6" r="4.75" fill="url(#gr)"/>
<circle cx="589.6" cy="390.6" r="4.75" fill="url(#gr)"/>
<circle cx="595.5" cy="386.8" r="4.75" fill="url(#gr)"/>
<circle cx="602.3" cy="383" r="4.75" fill="url(#gr)"/>
<circle cx="608.7" cy="377.5" r="4.75" fill="url(#gr)"/>
<circle cx="615" cy="373" r="4.75" fill="url(#gr)"/>
<circle cx="621.2" cy="374" r="4.75" fill="url(#gr)"/>
<circle cx="627.2" cy="368.9" r="4.75" fill="url(#gr)"/>
<circle cx="633.6" cy="366.1" r="4.75" fill="url(#gr)"/>
<circle cx="640.1" cy="362.7" r="4.75" fill="url(#gr)"/>
<circle cx="646.5" cy="359.8" r="4.75" fill="url(#gr)"/>
<circle cx="653" cy="357.5" r="4.75" fill="url(#gr)"/>
<line x1="420.4" y1="323.6" x2="452.6" y2="323.6" stroke="#f94d5c" stroke-width="1.5"/>
<circle cx="436.3" cy="323.6" r="4.8" fill="url(#gr)"/>
<text x="459.2" y="327.7" font-size="13" fill="#1a1a1a">V<tspan font-size="9.49" dy="3.5">2</tspan><tspan dy="-3.5">CT</tspan><tspan font-size="9.49" dy="3.5" font-style="italic">x</tspan><tspan dy="-3.5"> superlattice</tspan></text>
<line x1="420.4" y1="344.9" x2="452.6" y2="344.9" stroke="#808080" stroke-width="1.5"/>
<circle cx="436.3" cy="344.9" r="4.8" fill="url(#gg)"/>
<text x="459.2" y="349" font-size="13" fill="#1a1a1a">V<tspan font-size="9.49" dy="3.5">2</tspan><tspan dy="-3.5">CT</tspan><tspan font-size="9.49" dy="3.5" font-style="italic">x</tspan><tspan dy="-3.5"> nanosheet</tspan></text>
</g>
</svg></body></html>
